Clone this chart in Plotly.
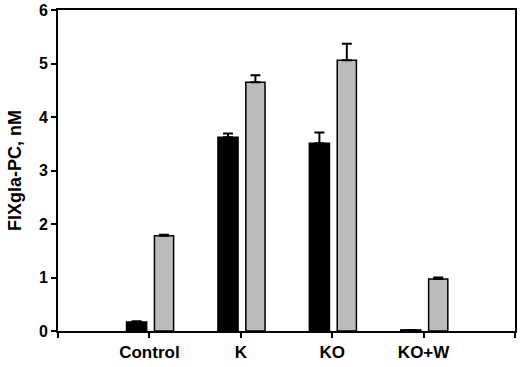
import plotly.graph_objects as go

categories = ["Control", "K", "KO", "KO+W"]
positions = [1, 2, 3, 4]
black_values = [0.17, 3.62, 3.51, 0.02]
black_errors = [0.01, 0.07, 0.20, 0.0]
gray_values = [1.78, 4.65, 5.06, 0.97]
gray_errors = [0.02, 0.13, 0.31, 0.03]
y_ticks = [0, 1, 2, 3, 4, 5, 6]
y_title = "FIXgla-PC, nM"

font_family = "Liberation Sans, Arial, sans-serif"

fig = go.Figure()
fig.add_trace(go.Bar(
    x=positions, y=black_values, width=0.22, offset=-0.25,
    marker=dict(color="black", line=dict(color="black", width=1.5)),
    error_y=dict(type="data", array=black_errors, arrayminus=[0]*4, symmetric=False,
                 color="black", thickness=2, width=5),
    showlegend=False, hoverinfo="skip",
))
fig.add_trace(go.Bar(
    x=positions, y=gray_values, width=0.21, offset=0.055,
    marker=dict(color="#bbbbbb", line=dict(color="black", width=1.5)),
    error_y=dict(type="data", array=gray_errors, arrayminus=[0]*4, symmetric=False,
                 color="black", thickness=2, width=5),
    showlegend=False, hoverinfo="skip",
))

fig.update_layout(
    width=520, height=367,
    margin=dict(l=58, r=5, t=10, b=36),
    paper_bgcolor="white", plot_bgcolor="white",
    font=dict(family=font_family, color="black"),
    xaxis=dict(
        range=[0, 5], tickmode="array", tickvals=[0] + positions + [5],
        ticktext=[""] + ["<b>%s</b>" % c for c in categories] + [""],
        showline=True, linecolor="black", linewidth=2, mirror=True,
        ticks="outside", ticklen=5, tickwidth=1.5, tickcolor="black",
        showgrid=False, zeroline=False, automargin=False,
        tickfont=dict(size=17, family=font_family),
    ),
    yaxis=dict(
        range=[0, 6], tickmode="array", tickvals=y_ticks,
        ticktext=["<b>%d</b>" % v for v in y_ticks],
        showline=True, linecolor="black", linewidth=2, mirror=True,
        ticks="outside", ticklen=5, tickwidth=1.5, tickcolor="black",
        showgrid=False, zeroline=False, automargin=False,
        tickfont=dict(size=16, family=font_family),
    ),
    annotations=[dict(
        text="<b>%s</b>" % y_title, xref="paper", yref="paper",
        x=-0.095, y=0.5, xanchor="center", yanchor="middle", textangle=-90,
        showarrow=False, font=dict(size=18, family=font_family, color="black"),
    )],
)

fig.write_html(
    "out.html",
    config={"displayModeBar": False},
    post_script="document.body.style.margin='0';document.body.style.overflow='hidden';",
)
